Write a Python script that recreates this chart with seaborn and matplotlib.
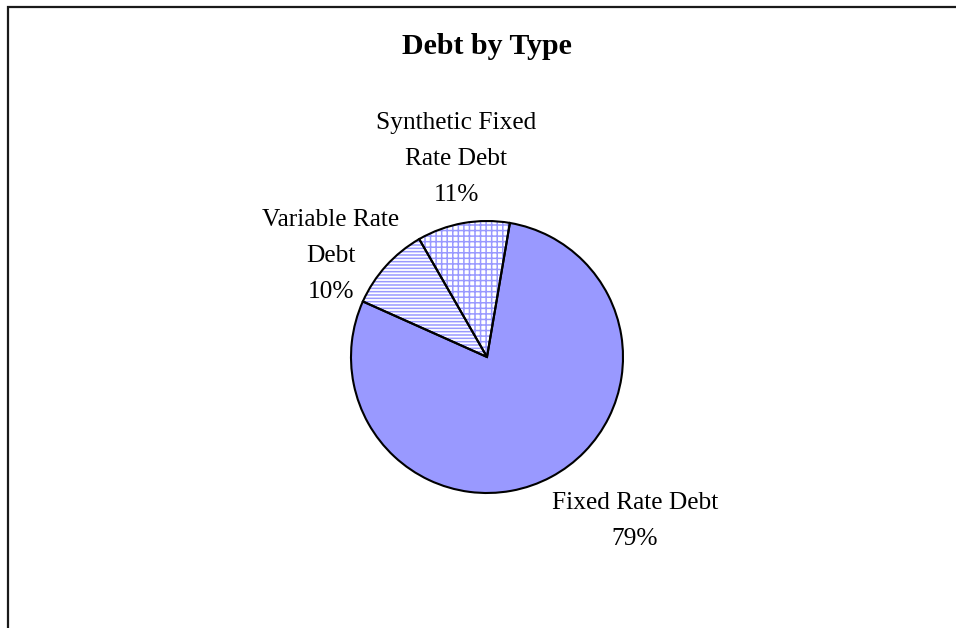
import matplotlib
matplotlib.use("Agg")
import matplotlib.pyplot as plt
from matplotlib.patches import Rectangle
import seaborn as sns

# Debt composition
categories = ["Fixed Rate Debt", "Variable Rate Debt", "Synthetic Fixed Rate Debt"]
shares = [79, 10, 11]
label_lines = [["Fixed Rate Debt"], ["Variable Rate", "Debt"], ["Synthetic Fixed", "Rate Debt"]]
title = "Debt by Type"

sns.set_theme(style="white")
plt.rcParams["font.family"] = ["Liberation Serif", "DejaVu Serif"]
plt.rcParams["hatch.linewidth"] = 1.1

W, H = 956, 628
fig = plt.figure(figsize=(W / 100, H / 100), dpi=100)
fig.patch.set_facecolor("white")
ax = fig.add_axes([0, 0, 1, 1])
ax.set_xlim(0, W)
ax.set_ylim(0, H)
ax.set_aspect("equal")
ax.axis("off")

# outer chart frame (runs off the right and bottom edge)
ax.add_patch(Rectangle((8, -20), W + 40, H - 7 + 20, fill=False,
                       edgecolor="#1a1a1a", linewidth=1.6, zorder=0))

blue = "#9999FF"
fills = [blue, "white", "white"]
hatches = [None, "-----", "+++"]
center = (487, H - 357)
radius = 136
start = 80.3

# filled / hatched layer
wedges, _ = ax.pie(shares, colors=fills, startangle=start, counterclock=False,
                   center=center, radius=radius, frame=True,
                   wedgeprops=dict(linewidth=0, edgecolor=blue))
for w, h in zip(wedges, hatches):
    if h:
        w.set_hatch(h)
        w.set_edgecolor(blue)
# black outline layer
ax.pie(shares, colors=["none"] * 3, startangle=start, counterclock=False,
       center=center, radius=radius, frame=True,
       wedgeprops=dict(linewidth=1.5, edgecolor="black", fill=False))
ax.set_xlim(0, W)
ax.set_ylim(0, H)
ax.axis("off")

# data labels
label_pos = [(635, 503), (331, 220), (456, 123)]
step = 36
for lines, val, (x, y) in zip(label_lines, shares, label_pos):
    for i, t in enumerate(lines + [f"{val}%"]):
        ax.text(x, H - (y + i * step), t, ha="center", va="center",
                fontsize=18.3, color="black")

ax.text(487, H - 47, title, ha="center", va="center", fontsize=21.5,
        fontweight="bold", color="black")

fig.savefig("out.png", dpi=100, facecolor="white")
